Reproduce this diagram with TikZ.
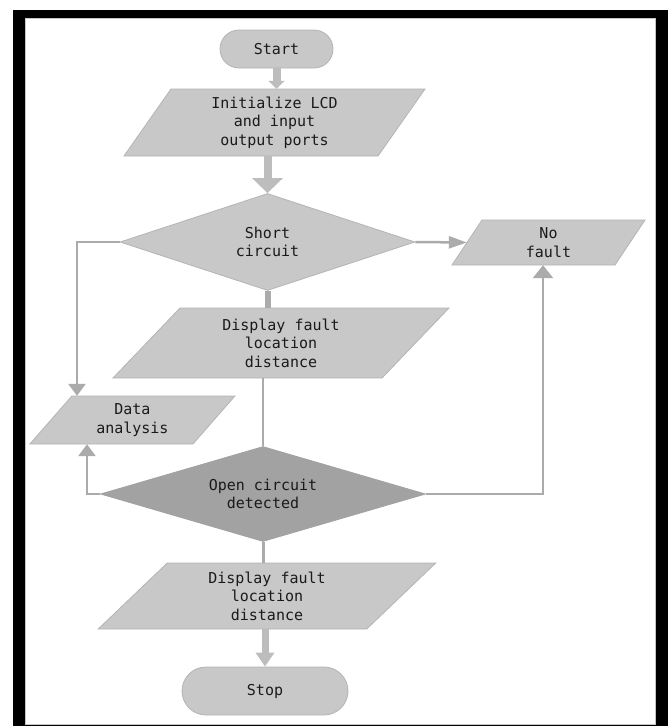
\documentclass[tikz,border=0pt]{standalone}
\usepackage{fontspec}
\setmainfont{DejaVu Sans Mono}
\usetikzlibrary{shapes.geometric,arrows.meta}
\definecolor{shp}{HTML}{C8C8C8}
\definecolor{shpedge}{HTML}{B4B4B4}
\definecolor{darkshp}{HTML}{A2A2A2}
\definecolor{conncol}{HTML}{ABABAB}
\definecolor{fatcol}{HTML}{BDBDBD}
\definecolor{txtc}{HTML}{1A1A1A}
\tikzset{
  txt/.style={draw=none, inner sep=0pt, align=center, text=txtc, font=\fontsize{15}{18.5}\selectfont},
  para/.style={fill=shp, draw=shpedge, line width=0.8pt},
  term/.style={txt, rectangle, fill=shp, draw=shpedge, line width=0.8pt},
  dia/.style={txt, diamond, fill=shp, draw=shpedge, line width=0.8pt},
  conn/.style={draw=conncol, line width=2.5pt},
  fat/.style={draw=fatcol, line width=8pt}
}
% name, cx, cy, mid width, height, slant, text
\newcommand\parabox[7]{%
  \filldraw[para] ({#2-#4/2+#6/2},{#3-#5/2}) -- ({#2+#4/2+#6/2},{#3-#5/2}) --
    ({#2+#4/2-#6/2},{#3+#5/2}) -- ({#2-#4/2-#6/2},{#3+#5/2}) -- cycle;
  \node[txt, minimum width=#4pt, minimum height=#5pt] (#1) at (#2,#3) {#7};
}
\begin{document}
\begin{tikzpicture}[x=1pt,y=-1pt]
\useasboundingbox (0,0) rectangle (668,726);
\fill[white] (0,0) rectangle (668,726);
\fill[black] (12.5,9.5) rectangle (668,726);
\fill[white] (25,18) rectangle (655,724);
\draw[gray!45, line width=0.8pt] (25,18) rectangle (655,724);

\node[term, minimum width=113pt, minimum height=38pt, rounded corners=19pt] (start) at (276.5,49) {Start};
\parabox{init}{274.5}{122.5}{254}{67}{47}{Initialize LCD\\and input\\output ports}
\node[dia, shape aspect=3.04, minimum width=295pt, minimum height=97pt] (sc) at (267.5,242) {Short\\circuit};
\parabox{nf}{548.5}{242.5}{163}{45}{30}{No\\fault}
\parabox{d1}{281}{343}{269}{70}{67}{Display fault\\location\\distance}
\parabox{data}{132.4}{420}{163}{48}{42}{Data\\analysis}
\node[dia, fill=darkshp, draw=darkshp, shape aspect=3.42, minimum width=325pt, minimum height=95pt] (oc) at (263,494) {Open circuit\\detected};
\parabox{d2}{267}{596}{268.5}{66}{69}{Display fault\\location\\distance}
\node[term, minimum width=166pt, minimum height=48pt, rounded corners=24pt] (stop) at (265,691) {Stop};

\coordinate (dl) at (77,0);
\coordinate (dr) at (87,0);
\coordinate (nr) at (543,0);

\draw[fat, -{Triangle[length=8pt,width=16pt]}] (start.south) -- (start.south |- init.north);
\draw[fat, -{Triangle[length=15pt,width=30pt]}] (sc.north |- init.south) -- (sc.north);
\draw[conn, line width=6pt] (sc.south) -- (sc.south |- d1.north);
\draw[conn, -{Triangle[length=12pt,width=17pt]}] (sc.west) -| (dl |- data.north);
\draw[conn, -{Triangle[length=18pt,width=12pt]}] (sc.east) -- (nf.west);
\draw[conn] (oc.north |- d1.south) -- (oc.north);
\draw[conn, -{Triangle[length=12pt,width=17pt]}] (oc.west) -| (dr |- data.south);
\draw[conn, -{Triangle[length=13pt,width=20pt]}] (oc.east) -| (nr |- nf.south);
\draw[conn, line width=3pt] (oc.south) -- (oc.south |- d2.north);
\draw[fat, line width=7pt, -{Triangle[length=14pt,width=18pt]}] (stop.north |- d2.south) -- (stop.north);
\end{tikzpicture}
\end{document}
